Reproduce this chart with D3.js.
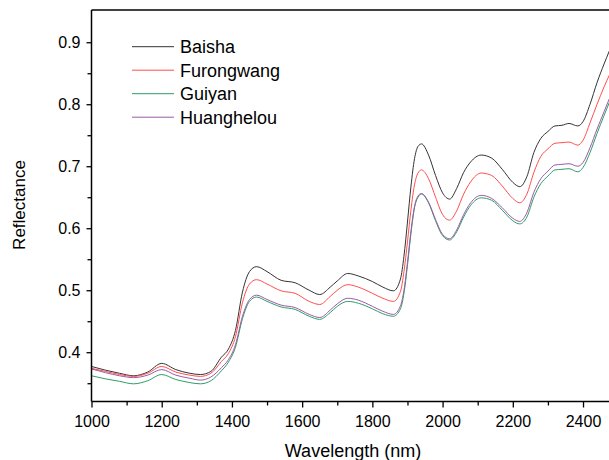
<!DOCTYPE html>
<meta charset="utf-8">
<style>
  body { margin: 0; background: #fff; }
  text { font-family: "Liberation Sans", Arial, sans-serif; fill: #000; }
</style>
<script src="https://d3js.org/d3.v7.min.js"></script>
<div id="chart"></div>
<script>

// wavelengths (nm)
var wavelength = [1000, 1040, 1080, 1120, 1160, 1200, 1240, 1280, 1310, 1340, 1370, 1390, 1410, 1430, 1450, 1470,
  1500, 1540, 1580, 1620, 1650, 1680, 1700, 1730, 1760, 1800, 1830, 1860, 1880, 1890, 1900, 1910, 1920, 1930,
  1940, 1960, 1980, 2000, 2020, 2040, 2060, 2080, 2110, 2140, 2170, 2200, 2220, 2240, 2260, 2280, 2300, 2320,
  2340, 2360, 2385, 2400, 2420, 2440, 2460, 2475];

var baisha = [0.377, 0.371, 0.366, 0.362, 0.368, 0.382, 0.372, 0.366, 0.364, 0.369, 0.392, 0.405, 0.435, 0.497, 0.530, 0.538,
  0.530, 0.516, 0.512, 0.500, 0.493, 0.505, 0.515, 0.527, 0.523, 0.514, 0.505, 0.499, 0.518, 0.555, 0.610, 0.668, 0.712, 0.732,
  0.736, 0.718, 0.685, 0.657, 0.647, 0.664, 0.690, 0.707, 0.718, 0.713, 0.695, 0.674, 0.667, 0.683, 0.722, 0.745, 0.756, 0.765,
  0.766, 0.769, 0.765, 0.772, 0.800, 0.835, 0.865, 0.886];

var furongwang = [0.374, 0.369, 0.364, 0.361, 0.366, 0.377, 0.368, 0.363, 0.361, 0.366, 0.385, 0.398, 0.425, 0.480, 0.510, 0.517,
  0.510, 0.499, 0.495, 0.482, 0.477, 0.490, 0.500, 0.509, 0.505, 0.495, 0.487, 0.482, 0.498, 0.530, 0.578, 0.630, 0.670, 0.689,
  0.694, 0.680, 0.650, 0.622, 0.613, 0.628, 0.655, 0.675, 0.689, 0.685, 0.668, 0.648, 0.641, 0.655, 0.690, 0.716, 0.728, 0.737,
  0.738, 0.739, 0.734, 0.742, 0.770, 0.800, 0.828, 0.847];

var guiyan = [0.362, 0.357, 0.353, 0.349, 0.354, 0.364, 0.356, 0.351, 0.349, 0.354, 0.370, 0.384, 0.408, 0.454, 0.482, 0.489,
  0.482, 0.473, 0.469, 0.458, 0.453, 0.464, 0.474, 0.482, 0.479, 0.470, 0.462, 0.458, 0.470, 0.495, 0.540, 0.592, 0.633, 0.650,
  0.655, 0.641, 0.612, 0.588, 0.581, 0.594, 0.618, 0.637, 0.649, 0.645, 0.629, 0.612, 0.607, 0.618, 0.650, 0.672, 0.684, 0.694,
  0.695, 0.696, 0.691, 0.698, 0.722, 0.753, 0.782, 0.803];

var huanghelou = [0.373, 0.367, 0.362, 0.359, 0.363, 0.372, 0.363, 0.358, 0.355, 0.360, 0.375, 0.388, 0.412, 0.458, 0.485, 0.492,
  0.485, 0.476, 0.472, 0.461, 0.456, 0.468, 0.478, 0.487, 0.484, 0.474, 0.466, 0.461, 0.475, 0.500, 0.545, 0.596, 0.635, 0.652,
  0.656, 0.642, 0.614, 0.590, 0.583, 0.597, 0.622, 0.641, 0.653, 0.648, 0.633, 0.616, 0.611, 0.625, 0.658, 0.680, 0.692, 0.702,
  0.703, 0.704, 0.700, 0.706, 0.730, 0.760, 0.788, 0.809];

var seriesNames = ["Baisha", "Furongwang", "Guiyan", "Huanghelou"];
var seriesValues = [baisha, furongwang, guiyan, huanghelou];
var seriesColors = ["#333333", "#ff4d4d", "#2e9c68", "#9a5aa6"];

var xTicks = [1000, 1200, 1400, 1600, 1800, 2000, 2200, 2400];
var xMinor = [1100, 1300, 1500, 1700, 1900, 2100, 2300];
var yTicks = [0.4, 0.5, 0.6, 0.7, 0.8, 0.9];
var yMinor = [0.35, 0.45, 0.55, 0.65, 0.75, 0.85];

var W = 609, H = 460;
var pLeft = 91.5, pRight = 609, pTop = 10, pBottom = 401.5;

var svg = d3.select("#chart").append("svg")
  .attr("width", W)
  .attr("height", H);

var x = d3.scaleLinear().domain([1000, 2474]).range([pLeft, pRight]);
var y = d3.scaleLinear().domain([0.3205, 0.952]).range([pBottom, pTop]);

svg.append("defs").append("clipPath").attr("id", "plot")
  .append("rect")
    .attr("x", pLeft).attr("y", pTop)
    .attr("width", pRight - pLeft).attr("height", pBottom - pTop);

// lines
var line = d3.line()
  .x(function(d) { return x(d[0]); })
  .y(function(d) { return y(d[1]); })
  .curve(d3.curveMonotoneX);

seriesValues.forEach(function(vals, i) {
  svg.append("path")
    .datum(wavelength.map(function(w, j) { return [w, vals[j]]; }))
    .attr("clip-path", "url(#plot)")
    .attr("fill", "none")
    .attr("stroke", seriesColors[i])
    .attr("stroke-width", 1)
    .attr("d", line);
});

// x axis
svg.append("g")
  .attr("transform", "translate(0," + pBottom + ")")
  .call(d3.axisBottom(x).tickValues(xTicks).tickSize(6).tickPadding(8).tickFormat(d3.format("d")));
svg.append("g")
  .attr("transform", "translate(0," + pBottom + ")")
  .call(d3.axisBottom(x).tickValues(xMinor).tickSize(4).tickFormat(""));

// y axis
svg.append("g")
  .attr("transform", "translate(" + pLeft + ",0)")
  .call(d3.axisLeft(y).tickValues(yTicks).tickSize(5).tickPadding(6).tickFormat(d3.format(".1f")));
svg.append("g")
  .attr("transform", "translate(" + pLeft + ",0)")
  .call(d3.axisLeft(y).tickValues(yMinor).tickSize(4).tickFormat(""));

svg.selectAll(".domain").remove();
svg.selectAll(".tick line").attr("stroke", "#000").attr("stroke-width", 1.3);
svg.selectAll(".tick text").style("font-size", "16px").attr("fill", "#000");

// frame
svg.append("line").attr("x1", pLeft).attr("x2", pRight).attr("y1", pBottom).attr("y2", pBottom)
  .attr("stroke", "#000").attr("stroke-width", 1.5);
svg.append("line").attr("x1", pLeft).attr("x2", pRight).attr("y1", pTop).attr("y2", pTop)
  .attr("stroke", "#000").attr("stroke-width", 1.5);
svg.append("line").attr("x1", pLeft).attr("x2", pLeft).attr("y1", pTop).attr("y2", pBottom)
  .attr("stroke", "#000").attr("stroke-width", 1.5);

// axis titles
svg.append("text")
  .attr("x", 353).attr("y", 457)
  .attr("text-anchor", "middle")
  .style("font-size", "18px")
  .text("Wavelength (nm)");

svg.append("text")
  .attr("transform", "translate(25,205) rotate(-90)")
  .attr("text-anchor", "middle")
  .style("font-size", "17px")
  .text("Reflectance");

// legend
var legend = svg.append("g");
seriesNames.forEach(function(name, i) {
  var ly = 46.7 + i * 23.5;
  legend.append("line")
    .attr("x1", 132).attr("x2", 174)
    .attr("y1", ly).attr("y2", ly)
    .attr("stroke", seriesColors[i])
    .attr("stroke-width", 1);
  legend.append("text")
    .attr("x", 180).attr("y", ly + 6.6)
    .style("font-size", "18px")
    .text(name);
});

</script>
